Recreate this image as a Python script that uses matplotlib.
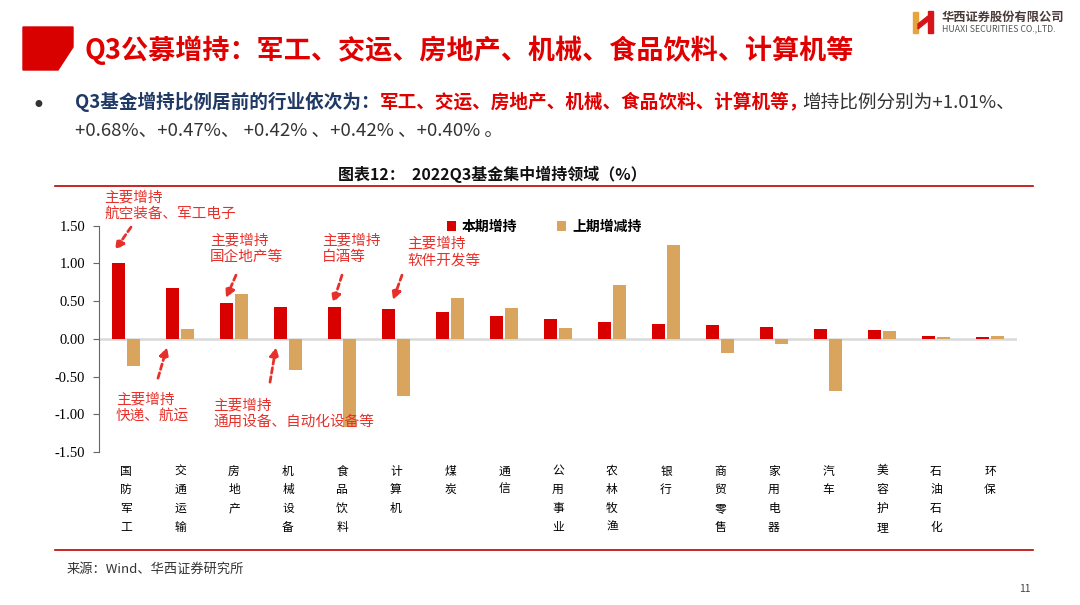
import matplotlib.pyplot as plt
import matplotlib.transforms as mtransforms
from matplotlib.patches import Polygon
import numpy as np

plt.rcParams['font.family'] = ['Noto Sans CJK SC', 'DejaVu Sans']

# 数据
industries = ['国防军工', '交通运输', '房地产', '机械设备', '食品饮料', '计算机', '煤炭', '通信',
              '公用事业', '农林牧渔', '银行', '商贸零售', '家用电器', '汽车', '美容护理', '石油石化', '环保']
current = [1.01, 0.68, 0.47, 0.42, 0.42, 0.40, 0.36, 0.30, 0.26, 0.23, 0.20, 0.18, 0.16, 0.13, 0.12, 0.04, 0.03]
previous = [-0.36, 0.13, 0.60, -0.41, -1.17, -0.76, 0.54, 0.41, 0.14, 0.71, 1.24, -0.19, -0.07, -0.69, 0.10, 0.03, 0.04]
yticks = [1.5, 1.0, 0.5, 0.0, -0.5, -1.0, -1.5]

RED = '#D90000'
TAN = '#D9A55E'
NOTE = '#E8302A'

W, H = 1080, 605
fig = plt.figure(figsize=(W / 100, H / 100), dpi=100)
# 像素坐标 (左上角为原点)
px = mtransforms.Affine2D().scale(1 / W, -1 / H).translate(0, 1) + fig.transFigure

# 左上角红色色块
fig.patches.append(Polygon([(23, 27), (73, 27), (73, 47), (58, 70), (23, 70)],
                           closed=True, color='#D90000', transform=px))
fig.text(84, 50, 'Q3公募增持：军工、交运、房地产、机械、食品饮料、计算机等', transform=px,
         color='#E00000', fontsize=19.5, fontweight='heavy', va='center', ha='left')

# logo
fig.patches.append(Polygon([(913, 12), (918, 12), (918, 33), (913, 33)], closed=True,
                           color='#E8A33C', transform=px))
fig.patches.append(Polygon([(928, 11), (933, 11), (933, 33), (928, 33)], closed=True,
                           color='#D7141A', transform=px))
fig.patches.append(Polygon([(918, 24), (928, 16), (928, 21), (918, 29)], closed=True,
                           color='#D7141A', transform=px))
fig.text(942, 17, '华西证券股份有限公司', transform=px, fontsize=8.8, fontweight='bold',
         color='#4A3A3A', va='center', ha='left')
fig.text(942, 29, 'HUAXI SECURITIES CO.,LTD.', transform=px, fontsize=6.3,
         color='#555555', va='center', ha='left')

# 要点文字
fig.text(38, 106, '•', transform=px, fontsize=17, color='#333333', va='center', ha='center',
         family='DejaVu Sans')
t1 = fig.text(75, 102, 'Q3基金增持比例居前的行业依次为：', transform=px, fontsize=13.4,
              fontweight='bold', color='#1F3864', va='center', ha='left')
fig.canvas.draw()
r = fig.canvas.get_renderer()
bb = t1.get_window_extent(r)
t2 = fig.text(bb.x1, bb.y0, '军工、交运、房地产、机械、食品饮料、计算机等，',
              transform=mtransforms.IdentityTransform(), fontsize=13.4, fontweight='bold',
              color='#E00000', va='bottom', ha='left')
fig.canvas.draw()
bb2 = t2.get_window_extent(r)
fig.text(bb2.x1 - 6, bb2.y0, '增持比例分别为+1.01%、', transform=mtransforms.IdentityTransform(),
         fontsize=13.4, color='#333333', va='bottom', ha='left')
fig.text(75, 131, '+0.68%、+0.47%、 +0.42% 、+0.42% 、+0.40% 。', transform=px, fontsize=13.4,
         color='#333333', va='center', ha='left')

# 图表标题与分隔线
fig.text(492, 174, '图表12：  2022Q3基金集中增持领域（%）', transform=px, fontsize=11.5,
         fontweight='bold', color='#111111', va='center', ha='center')
fig.add_artist(plt.Line2D([55, 1033], [186, 186], transform=px, color='#C00000', lw=1.2))
fig.add_artist(plt.Line2D([55, 1033], [550, 550], transform=px, color='#C00000', lw=1.2))
fig.text(67, 569, '来源：Wind、华西证券研究所', transform=px, fontsize=9.5, fontstyle='italic',
         color='#333333', va='center', ha='left')
fig.text(1025, 589, '11', transform=px, fontsize=7.5, color='#444444', va='center', ha='center')

# 柱状图
ax = fig.add_axes([99 / W, 1 - 452 / H, 918 / W, 226.3 / H])
x = np.arange(len(industries))
bw = 0.25
ax.bar(x - bw / 2 - 0.01, current, bw, color=RED, label='本期增持')
ax.bar(x + bw / 2 + 0.01, previous, bw, color=TAN, label='上期增减持')
ax.axhline(0, color='#D9D9D9', lw=1.8, zorder=0)
ax.set_xlim(-0.5, len(industries) - 0.5)
ax.set_ylim(-1.5, 1.5)
ax.set_yticks(yticks)
ax.set_yticklabels(['%.2f' % v for v in yticks], family='Liberation Serif', fontsize=10.5)
ax.set_xticks(x)
ax.set_xticklabels(['\n'.join(s) for s in industries], fontsize=8.5, linespacing=1.58,
                   va='top')
ax.tick_params(axis='x', length=0, pad=9)
ax.tick_params(axis='y', length=4, width=0.8, color='#666666', pad=6)
for s in ['top', 'right', 'bottom']:
    ax.spines[s].set_visible(False)
ax.spines['left'].set_color('#666666')
ax.spines['left'].set_linewidth(0.8)

ax.legend(ncol=2, loc='center left', bbox_to_anchor=(447, 227), bbox_transform=px,
          frameon=False, borderpad=0, borderaxespad=0,
          handlelength=0.65, handleheight=0.65, handletextpad=0.4, columnspacing=2.9,
          prop={'size': 10, 'weight': 'bold'})


# 注释：像素坐标 -> 数据坐标
def to_data(xp, yp):
    return (xp - 99) / 54.0 - 0.5, (338.7 - yp) / 75.4


notes = [
    ('主要增持\n航空装备、军工电子', (104, 206), (131, 227), (115, 250)),
    ('主要增持\n国企地产等', (210, 249), (236, 275), (226, 298)),
    ('主要增持\n白酒等', (322, 249), (342, 275), (333, 303)),
    ('主要增持\n软件开发等', (407, 252), (402, 275), (393, 300)),
    ('主要增持\n快递、航运', (116, 408), (158, 378), (167, 347)),
    ('主要增持\n通用设备、自动化设备等', (213, 414), (270, 382), (276, 347)),
]
for txt, tpos, tail, head in notes:
    fig.text(tpos[0], tpos[1], txt, transform=px, fontsize=10.5, color=NOTE,
             va='center', ha='left', linespacing=1.2)
    ax.annotate('', xy=to_data(*head), xytext=to_data(*tail), annotation_clip=False,
                arrowprops=dict(arrowstyle='-|>', color=NOTE, lw=2, linestyle=(0, (2, 1.3)),
                                mutation_scale=13, shrinkA=0, shrinkB=0))

fig.savefig('out.png', dpi=100)
